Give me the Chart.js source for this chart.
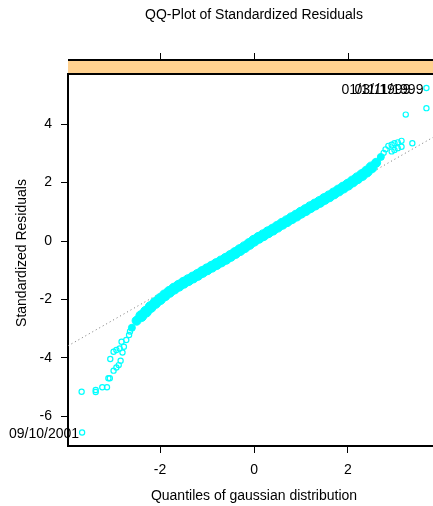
<!DOCTYPE html>
<html>
<head>
<meta charset="utf-8">
<script src="https://cdn.jsdelivr.net/npm/chart.js@4.4.1/dist/chart.umd.min.js"></script>
<style>
  html, body { margin: 0; padding: 0; background: #fff; }
  canvas { display: block; }
</style>
</head>
<body>
<canvas id="qq" width="433" height="506"></canvas>
<script>
// quantiles of the gaussian (x) and standardized residuals (y)
const bandX = [-2.6, -2.5, -2.4, -2.3, -2.2, -2.1, -2.0, -1.9, -1.8, -1.7, -1.6, -1.5, -1.4, -1.3,
  -1.2, -1.1, -1.0, -0.9, -0.8, -0.7, -0.6, -0.5, -0.4, -0.3, -0.2, -0.1, 0.0, 0.1, 0.2, 0.3,
  0.4, 0.5, 0.6, 0.7, 0.8, 0.9, 1.0, 1.1, 1.2, 1.3, 1.4, 1.5, 1.6, 1.7, 1.8, 1.9, 2.0, 2.1,
  2.2, 2.3, 2.4, 2.5, 2.6, 2.7];
const bandY = [-2.97, -2.73, -2.57, -2.42, -2.26, -2.12, -1.99, -1.86, -1.74, -1.63, -1.53, -1.43, -1.34, -1.25,
  -1.16, -1.06, -0.97, -0.88, -0.79, -0.70, -0.61, -0.51, -0.41, -0.31, -0.21, -0.10, 0.01, 0.11, 0.20, 0.30,
  0.39, 0.49, 0.59, 0.68, 0.78, 0.87, 0.97, 1.06, 1.16, 1.25, 1.34, 1.44, 1.53, 1.63, 1.73, 1.83, 1.93, 2.04,
  2.15, 2.26, 2.38, 2.52, 2.68, 2.88];

// the sparse points in both tails
const tailX = [-3.66, -3.67, -3.37, -3.37, -3.23, -3.13, -3.10, -3.07, -3.06, -2.99, -2.99, -2.93, -2.93,
  -2.88, -2.86, -2.84, -2.82, -2.80, -2.77, -2.72, -2.66, -2.64,
  2.76, 2.80, 2.86, 2.93, 2.99, 3.06, 3.14, 2.93, 2.99, 3.06, 3.14, 3.37, 3.23, 3.67, 3.67];
const tailY = [-6.56, -5.16, -5.10, -5.17, -5.01, -5.01, -4.70, -4.70, -4.04, -4.44, -3.79, -4.33, -3.73,
  -4.25, -3.68, -4.10, -3.45, -3.82, -3.62, -3.39, -3.22, -3.10,
  3.02, 3.14, 3.26, 3.30, 3.35, 3.38, 3.43, 3.07, 3.12, 3.18, 3.23, 3.35, 4.33, 4.55, 5.24];

// dotted reference line, ends at the panel edges
const refX = [-3.96, 3.81];
const refY = [-3.59, 3.55];

// dates printed next to the extreme residuals
const labelX = [-3.66, 3.67, 3.67];
const labelY = [-6.56, 5.24, 5.24];
const labelText = ["09/10/2001", "01/11/1999", "03/11/1999"];
const labelShift = [0, -13, 0];

const xTicks = [-2, 0, 2];
const yTicks = [-6, -4, -2, 0, 2, 4];
const xRange = [-3.96, 3.81];
const yRange = [-7.02, 5.72];

const FONT = "'Liberation Sans', Arial, sans-serif";
const CYAN = "#00ffff";

const pts = (xs, ys) => xs.map((x, i) => ({ x: x, y: ys[i] }));

const panelDecor = {
  id: "panelDecor",
  beforeDraw(chart) {
    const ctx = chart.ctx;
    const a = chart.chartArea;
    const xs = chart.scales.x;
    ctx.save();
    ctx.fillStyle = "#fff";
    ctx.fillRect(0, 0, chart.width, chart.height);
    // strip above the panel
    ctx.fillStyle = "#ffd18f";
    ctx.fillRect(a.left, 60, a.right - a.left + 5, a.top - 60);
    ctx.strokeStyle = "#000";
    ctx.lineWidth = 2;
    ctx.beginPath();
    ctx.moveTo(a.left, 60); ctx.lineTo(a.right + 5, 60);
    ctx.moveTo(a.left, a.top); ctx.lineTo(a.right + 5, a.top);
    ctx.stroke();
    // ticks on top of the strip
    ctx.lineWidth = 1;
    ctx.beginPath();
    xTicks.forEach(v => {
      const px = Math.round(xs.getPixelForValue(v)) + 0.5;
      ctx.moveTo(px, 53); ctx.lineTo(px, 60);
    });
    ctx.stroke();
    // titles
    ctx.fillStyle = "#000";
    ctx.font = "14px " + FONT;
    ctx.textAlign = "center";
    ctx.textBaseline = "middle";
    ctx.fillText("QQ-Plot of Standardized Residuals", 254, 15);
    ctx.fillText("Quantiles of gaussian distribution", 254, 496);
    ctx.translate(22, 253);
    ctx.rotate(-Math.PI / 2);
    ctx.fillText("Standardized Residuals", 0, 0);
    ctx.restore();
  },
  afterDatasetsDraw(chart) {
    const ctx = chart.ctx;
    const xs = chart.scales.x, ys = chart.scales.y;
    ctx.save();
    ctx.fillStyle = "#000";
    ctx.font = "14px " + FONT;
    ctx.textAlign = "right";
    ctx.textBaseline = "middle";
    labelText.forEach((t, i) => {
      ctx.fillText(t, xs.getPixelForValue(labelX[i]) - 3 + labelShift[i], ys.getPixelForValue(labelY[i]) + 2);
    });
    ctx.restore();
  }
};

const axisStyle = {
  grid: { display: true, drawOnChartArea: false, drawTicks: true, tickLength: 7, color: "#000", lineWidth: 1 },
  border: { display: true, color: "#000", width: 2 },
  ticks: { color: "#000", font: { family: FONT, size: 14 } }
};

const lastBand = bandX.length - 1;

new Chart(document.getElementById("qq"), {
  type: "scatter",
  data: {
    datasets: [
      {
        type: "line",
        data: pts(refX, refY),
        borderColor: "#777",
        borderWidth: 1,
        borderDash: [1, 3],
        pointRadius: 0,
        order: 3
      },
      {
        data: pts(bandX, bandY),
        pointRadius: c => (c.dataIndex === 0 || c.dataIndex === lastBand) ? 3.5 :
          (c.dataIndex === 1 || c.dataIndex === lastBand - 1) ? 4.5 : 5.5,
        backgroundColor: CYAN,
        borderColor: CYAN,
        borderWidth: 1,
        order: 1
      },
      {
        data: pts(tailX, tailY),
        pointRadius: 2.6,
        backgroundColor: "rgba(0,0,0,0)",
        borderColor: CYAN,
        borderWidth: 1.2,
        order: 1
      }
    ]
  },
  options: {
    responsive: false,
    animation: false,
    devicePixelRatio: 1,
    layout: { autoPadding: false, padding: { top: 74, left: 0, right: 0, bottom: 0 } },
    plugins: { legend: { display: false }, tooltip: { enabled: false } },
    scales: {
      x: {
        type: "linear",
        min: xRange[0], max: xRange[1],
        afterFit: s => { s.height = 60; },
        afterBuildTicks: s => { s.ticks = xTicks.map(v => ({ value: v })); },
        ...axisStyle,
        ticks: { ...axisStyle.ticks, padding: 9 }
      },
      y: {
        type: "linear",
        min: yRange[0], max: yRange[1],
        afterFit: s => { s.width = 68; },
        afterBuildTicks: s => { s.ticks = yTicks.map(v => ({ value: v })); },
        ...axisStyle,
        ticks: { ...axisStyle.ticks, padding: 9 }
      }
    }
  },
  plugins: [panelDecor]
});
</script>
</body>
</html>
